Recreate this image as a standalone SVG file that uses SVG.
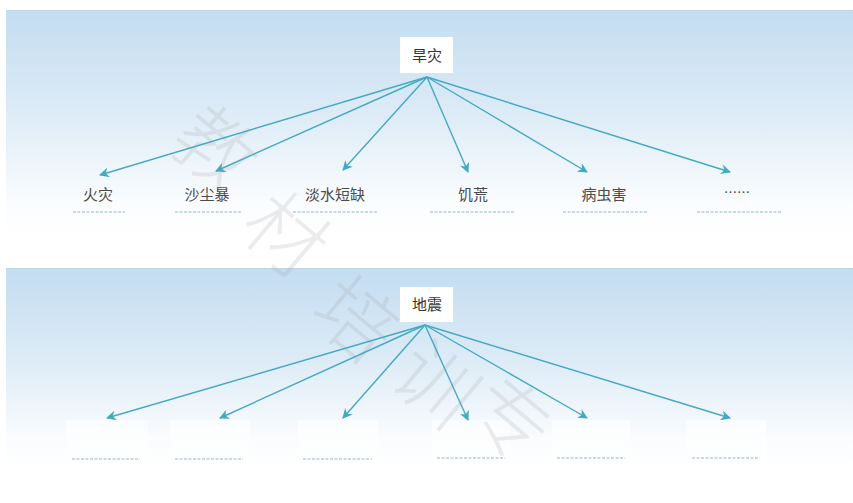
<svg xmlns="http://www.w3.org/2000/svg" width="853" height="503" viewBox="0 0 853 503">
<defs>
<linearGradient id="bg" x1="0" y1="0" x2="0" y2="1">
<stop offset="0" stop-color="#c3ddf1"/>
<stop offset="0.45" stop-color="#dcebf6"/>
<stop offset="0.85" stop-color="#fafcfe"/>
<stop offset="1" stop-color="#ffffff"/>
</linearGradient>
<marker id="ah" viewBox="0 0 10 10" refX="9" refY="5" markerWidth="10" markerHeight="10" markerUnits="userSpaceOnUse" orient="auto">
<path d="M0,0 L10,5 L0,10 L3,5 Z" fill="#45a9c2"/>
</marker>
<style>
.lbl{font-family:"Noto Sans CJK SC","Noto Sans",sans-serif;font-size:15px;fill:#4a4a4a;text-anchor:middle}
.hd{font-family:"Noto Sans CJK SC","Noto Sans",sans-serif;font-size:15px;fill:#333;text-anchor:middle}
.box{fill:#ffffff}
.ul{stroke:#8fb9c6;stroke-width:1.2;stroke-dasharray:3 1.5;fill:none}
.con line{stroke:#45a9c2;stroke-width:1.4;marker-end:url(#ah)}
.wm text{font-family:"Noto Sans CJK SC",sans-serif;font-size:80px;font-weight:300;fill:#9a9a9a;opacity:0.18;text-anchor:middle}
</style>
</defs>
<rect width="853" height="503" fill="#ffffff"/>
<rect x="6" y="10" width="847" height="225" fill="url(#bg)"/>
<line x1="6" y1="10.5" x2="853" y2="10.5" stroke="#b5cfe0" stroke-width="1" stroke-dasharray="1 1"/>
<rect x="6" y="268" width="847" height="200" fill="url(#bg)"/>
<line x1="6" y1="268.5" x2="853" y2="268.5" stroke="#b5cfe0" stroke-width="1" stroke-dasharray="1 1"/>
<g fill="#ffffff" opacity="0.6">
<rect x="66" y="420" width="82" height="46"/>
<rect x="170" y="420" width="80" height="46"/>
<rect x="298" y="420" width="80" height="46"/>
<rect x="432" y="420" width="78" height="46"/>
<rect x="552" y="420" width="78" height="46"/>
<rect x="686" y="420" width="80" height="46"/>
</g>
<g id="watermark" class="wm">
<text transform="translate(215,150) rotate(40) translate(0,28)">教</text>
<text transform="translate(285,235) rotate(40) translate(0,28)">材</text>
<text transform="translate(355,320) rotate(40) translate(0,28)">培</text>
<text transform="translate(435,385) rotate(40) translate(0,28)">训</text>
<text transform="translate(510,420) rotate(40) translate(0,28)">专</text>
</g>
<g id="connectors" class="con">
<line x1="427" y1="77" x2="100" y2="175"/>
<line x1="427" y1="77" x2="216" y2="171"/>
<line x1="427" y1="77" x2="343" y2="170"/>
<line x1="427" y1="77" x2="468" y2="172"/>
<line x1="427" y1="77" x2="587" y2="172"/>
<line x1="427" y1="77" x2="730" y2="172"/>
<line x1="425" y1="325" x2="107" y2="418"/>
<line x1="425" y1="325" x2="220" y2="418"/>
<line x1="425" y1="325" x2="343" y2="418"/>
<line x1="425" y1="325" x2="468" y2="420"/>
<line x1="425" y1="325" x2="587" y2="418"/>
<line x1="425" y1="325" x2="730" y2="418"/>
</g>
<g id="n-hanzai"><rect class="box" x="400" y="37" width="53" height="36"/><text class="hd" x="427" y="61">旱灾</text></g>
<g id="n-huozai"><text class="lbl" x="98" y="200">火灾</text><line class="ul" x1="73" y1="212" x2="125" y2="212"/></g>
<g id="n-shachenbao"><text class="lbl" x="207" y="200">沙尘暴</text><line class="ul" x1="175" y1="212" x2="242" y2="212"/></g>
<g id="n-danshui"><text class="lbl" x="335" y="200">淡水短缺</text><line class="ul" x1="293" y1="212" x2="377" y2="212"/></g>
<g id="n-jihuang"><text class="lbl" x="473" y="200">饥荒</text><line class="ul" x1="430" y1="212" x2="515" y2="212"/></g>
<g id="n-bingchong"><text class="lbl" x="604" y="200">病虫害</text><line class="ul" x1="563" y1="212" x2="647" y2="212"/></g>
<g id="n-etc"><text class="lbl" x="737" y="197" style="font-size:13px">……</text><line class="ul" x1="697" y1="212" x2="781" y2="212"/></g>
<g id="n-dizhen"><rect class="box" x="400" y="287" width="53" height="35"/><text class="hd" x="427" y="310">地震</text></g>
<g id="b1"><line class="ul" x1="72" y1="459" x2="140" y2="459"/></g>
<g id="b2"><line class="ul" x1="175" y1="459" x2="243" y2="459"/></g>
<g id="b3"><line class="ul" x1="303" y1="459" x2="372" y2="459"/></g>
<g id="b4"><line class="ul" x1="437" y1="458" x2="505" y2="458"/></g>
<g id="b5"><line class="ul" x1="557" y1="458" x2="625" y2="458"/></g>
<g id="b6"><line class="ul" x1="692" y1="458" x2="760" y2="458"/></g>
</svg>
